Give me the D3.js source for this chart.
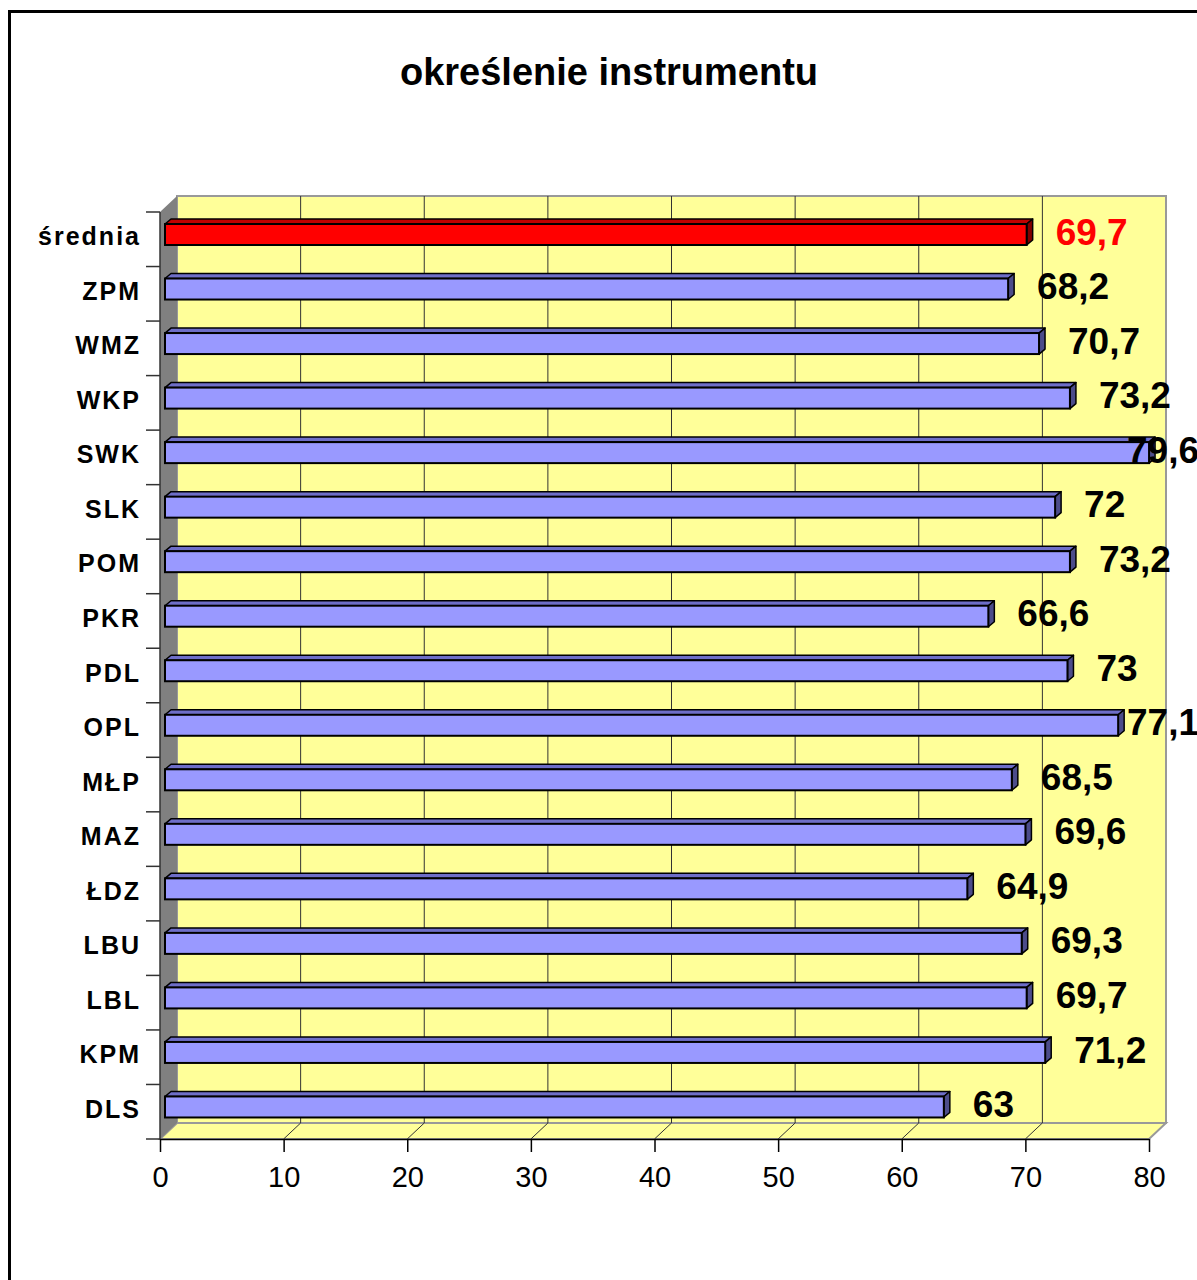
<!DOCTYPE html>
<html>
<head>
<meta charset="utf-8">
<script src="https://cdn.jsdelivr.net/npm/d3@7"></script>
<style>
  body { margin: 0; background: #fff; }
  svg { display: block; font-family: "Liberation Sans", Arial, sans-serif; }
</style>
</head>
<body>
<svg id="svg" width="1197" height="1280"></svg>
<script>
var categories = ['średnia', 'ZPM', 'WMZ', 'WKP', 'SWK', 'SLK', 'POM', 'PKR', 'PDL', 'OPL', 'MŁP', 'MAZ', 'ŁDZ', 'LBU', 'LBL', 'KPM', 'DLS'];
var values = [69.7, 68.2, 70.7, 73.2, 79.6, 72, 73.2, 66.6, 73, 77.1, 68.5, 69.6, 64.9, 69.3, 69.7, 71.2, 63];
var valueLabels = ['69,7', '68,2', '70,7', '73,2', '79,6', '72', '73,2', '66,6', '73', '77,1', '68,5', '69,6', '64,9', '69,3', '69,7', '71,2', '63'];
var xTicks = [0, 10, 20, 30, 40, 50, 60, 70, 80];

InitializeComponents();

function InitializeComponents() {
  var svg = d3.select('svg');

  // front plane and depth of the 3d box
  var left = 160, right = 1149, top = 212, bottom = 1139;
  var dx = 17, dy = -16;
  // bars sit a bit behind the front plane
  var bdx = 5, bdepthX = 6, bdepthY = -5;

  var x = d3.scaleLinear().domain([0, 80]).range([left, right]);
  var y = d3.scaleBand().domain(categories).range([top, bottom]);

  // outer frame
  svg.append('rect')
    .attr('x', 9.5).attr('y', 11.5)
    .attr('width', 1220).attr('height', 1300)
    .attr('fill', 'none').attr('stroke', '#000').attr('stroke-width', 3);

  svg.append('text')
    .attr('x', 609).attr('y', 85)
    .attr('text-anchor', 'middle')
    .attr('font-size', 38).attr('font-weight', 'bold')
    .text('określenie instrumentu');

  // back wall
  svg.append('rect')
    .attr('x', left + dx).attr('y', top + dy)
    .attr('width', right - left).attr('height', bottom - top)
    .attr('fill', '#FFFF99').attr('stroke', '#999').attr('stroke-width', 2);

  // floor
  svg.append('path')
    .attr('d', 'M' + left + ',' + bottom + ' L' + (left + dx) + ',' + (bottom + dy) +
      ' L' + (right + dx) + ',' + (bottom + dy) + ' L' + right + ',' + bottom + 'Z')
    .attr('fill', '#FFFF99').attr('stroke', '#999').attr('stroke-width', 2);

  // gridlines on wall + floor
  var grid = svg.append('g');
  xTicks.filter(function (d) { return d > 0 && d < 80; }).forEach(function (d) {
    grid.append('line')
      .attr('x1', x(d) + dx).attr('x2', x(d) + dx)
      .attr('y1', top + dy).attr('y2', bottom + dy)
      .attr('stroke', '#333').attr('stroke-width', 1);
    grid.append('line')
      .attr('x1', x(d)).attr('x2', x(d) + dx)
      .attr('y1', bottom).attr('y2', bottom + dy)
      .attr('stroke', '#333').attr('stroke-width', 1);
  });

  // side wall
  svg.append('path')
    .attr('d', 'M' + left + ',' + top + ' L' + (left + dx) + ',' + (top + dy) +
      ' L' + (left + dx) + ',' + (bottom + dy) + ' L' + left + ',' + bottom + 'Z')
    .attr('fill', '#808080');

  // bars
  var bars = svg.append('g').selectAll('g').data(categories).enter().append('g');
  var barTop = function (d) { return y(d) + 12; };
  var h = 21;
  var colors = function (i) {
    return i === 0 ? ['#FF0000', '#C00000', '#800000'] : ['#9999FF', '#6E6EC8', '#4C4C8A'];
  };

  bars.append('path')
    .attr('d', function (d, i) {
      var x0 = x(0) + bdx, x1 = x(values[i]) + bdx, t = barTop(d);
      return 'M' + x0 + ',' + t + ' L' + (x0 + bdepthX) + ',' + (t + bdepthY) +
        ' L' + (x1 + bdepthX) + ',' + (t + bdepthY) + ' L' + x1 + ',' + t + 'Z';
    })
    .attr('fill', function (d, i) { return colors(i)[1]; })
    .attr('stroke', '#000').attr('stroke-width', 1.5).attr('stroke-linejoin', 'round');

  bars.append('path')
    .attr('d', function (d, i) {
      var x1 = x(values[i]) + bdx, t = barTop(d);
      return 'M' + x1 + ',' + t + ' L' + (x1 + bdepthX) + ',' + (t + bdepthY) +
        ' L' + (x1 + bdepthX) + ',' + (t + h + bdepthY) + ' L' + x1 + ',' + (t + h) + 'Z';
    })
    .attr('fill', function (d, i) { return colors(i)[2]; })
    .attr('stroke', '#000').attr('stroke-width', 1.5).attr('stroke-linejoin', 'round');

  bars.append('rect')
    .attr('x', x(0) + bdx)
    .attr('y', barTop)
    .attr('width', function (d, i) { return x(values[i]) - x(0); })
    .attr('height', h)
    .attr('fill', function (d, i) { return colors(i)[0]; })
    .attr('stroke', '#000').attr('stroke-width', 2);

  // value labels
  bars.append('text')
    .attr('x', function (d, i) { return Math.min(x(values[i]) + bdx + 29, 1127); })
    .attr('y', function (d) { return y(d) + y.bandwidth() / 2 - 8; })
    .attr('dy', '0.36em')
    .attr('font-size', 37).attr('font-weight', 'bold')
    .attr('fill', function (d, i) { return i === 0 ? '#FF0000' : '#000'; })
    .text(function (d, i) { return valueLabels[i]; });

  // category axis
  var yAxis = svg.append('g');
  yAxis.append('line')
    .attr('x1', left).attr('x2', left).attr('y1', top).attr('y2', bottom)
    .attr('stroke', '#333').attr('stroke-width', 1.5);
  yAxis.selectAll('.tk').data(categories.concat(['end'])).enter().append('line')
    .attr('x1', left - 14).attr('x2', left)
    .attr('y1', function (d, i) { return top + i * y.bandwidth(); })
    .attr('y2', function (d, i) { return top + i * y.bandwidth(); })
    .attr('stroke', '#333').attr('stroke-width', 1.5);
  yAxis.selectAll('text').data(categories).enter().append('text')
    .attr('x', 141)
    .attr('y', function (d) { return y(d) + y.bandwidth() / 2 - 3; })
    .attr('dy', '0.36em')
    .attr('text-anchor', 'end')
    .attr('font-size', 25).attr('font-weight', 'bold')
    .attr('letter-spacing', 2)
    .text(function (d) { return d; });

  // value axis
  var xAxis = svg.append('g')
    .attr('transform', 'translate(0,' + bottom + ')')
    .call(d3.axisBottom(x).tickValues(xTicks).tickSize(13).tickPadding(14).tickSizeOuter(0));
  xAxis.select('.domain').attr('stroke', '#000').attr('stroke-width', 1.5);
  xAxis.selectAll('.tick line').attr('stroke', '#000').attr('stroke-width', 1.5);
  xAxis.selectAll('.tick text')
    .attr('font-size', 29).attr('fill', '#000')
    .attr('font-family', '"Liberation Sans", Arial, sans-serif');
}
</script>
</body>
</html>
